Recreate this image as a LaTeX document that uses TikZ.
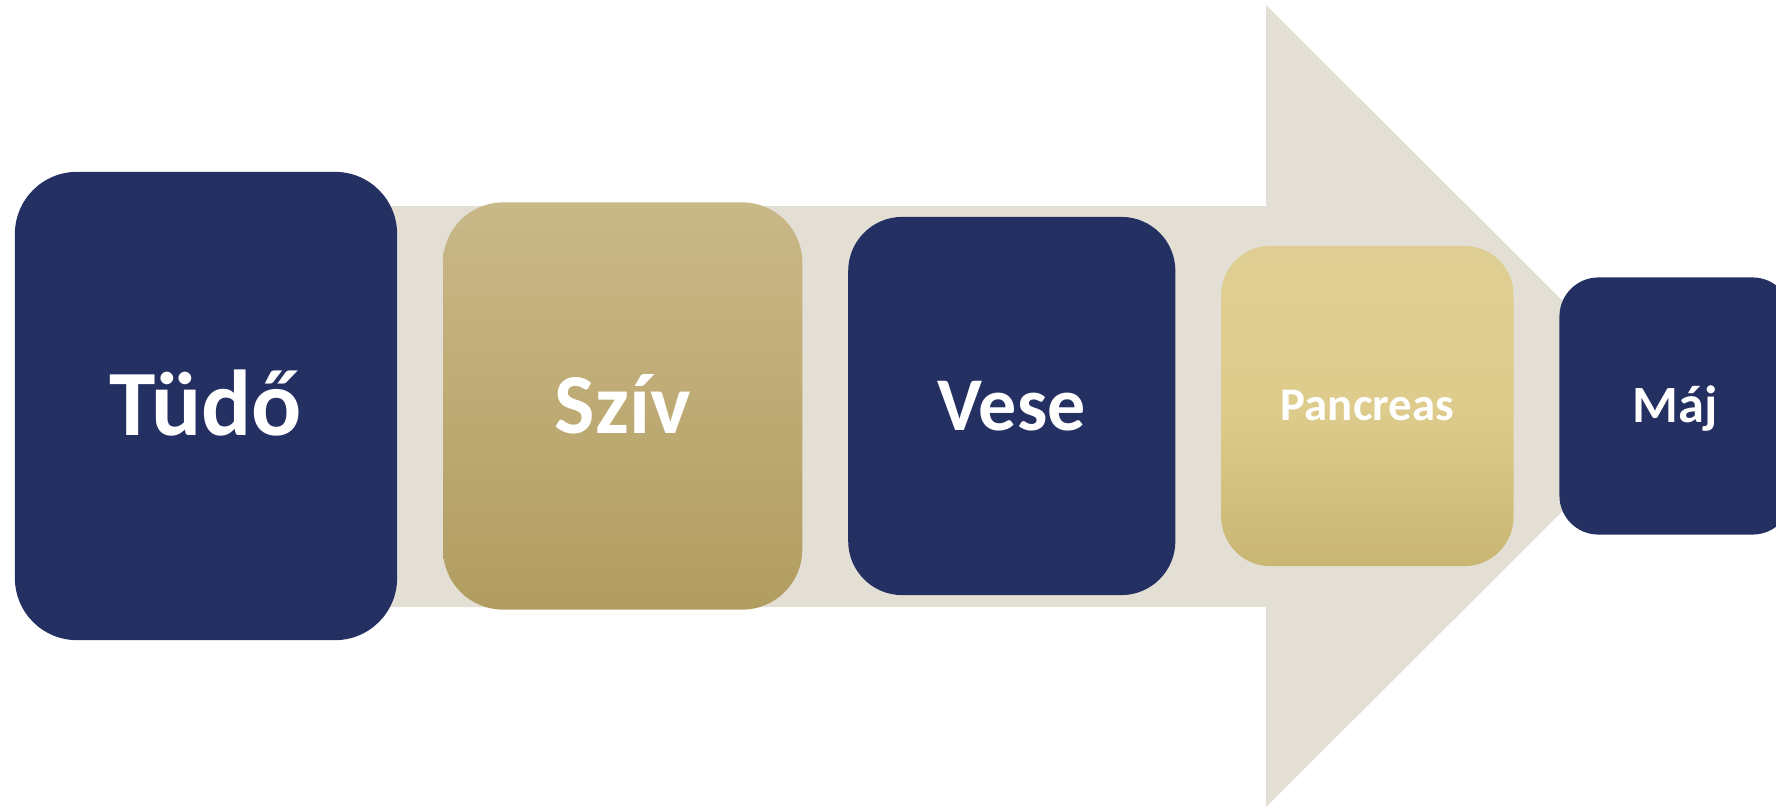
\documentclass[tikz,border=0pt]{standalone}
\usepackage{fontspec}
\setmainfont{Carlito}
\usetikzlibrary{positioning}

\definecolor{navy}{RGB}{37,48,98}
\definecolor{shaft}{RGB}{227,223,213}
\definecolor{goldtop}{RGB}{201,184,136}
\definecolor{goldbot}{RGB}{178,157,96}
\definecolor{palegoldtop}{RGB}{223,206,147}
\definecolor{palegoldmid}{RGB}{222,204,140}
\definecolor{palegoldbot}{RGB}{201,182,115}

\tikzset{
  organbox/.style={rectangle,inner sep=0pt,text=white,text depth=0pt},
  navybox/.style={organbox,fill=navy},
}

\begin{document}
\begin{tikzpicture}[x=0.01cm,y=-0.01cm]
\clip (0,0) rectangle (1776,806);

% big arrow behind the boxes
\fill[shaft] (200,206) -- (1266,206) -- (1266,5) -- (1668,406) -- (1266,807) -- (1266,607) -- (200,607) -- cycle;

\node[navybox,minimum width=3.82cm,minimum height=4.68cm,rounded corners=0.62cm,
  font=\fontsize{26.6}{30}\selectfont\bfseries,text height=16.8pt] (lung) at (206,406) {Tüdő};
\node[organbox,minimum width=3.59cm,minimum height=4.07cm,rounded corners=0.6cm,
  top color=goldtop,bottom color=goldbot,
  font=\fontsize{24.3}{28}\selectfont\bfseries,text height=15.4pt,right=0.445cm of lung] (heart) {Szív};
\node[navybox,minimum width=3.27cm,minimum height=3.78cm,rounded corners=0.54cm,
  font=\fontsize{21.6}{25}\selectfont\bfseries,text height=13.7pt,right=0.445cm of heart] (kidney) {Vese};
\node[organbox,minimum width=2.92cm,minimum height=3.2cm,rounded corners=0.49cm,
  top color=palegoldtop,bottom color=palegoldbot,middle color=palegoldmid,
  font=\fontsize{13.3}{16}\selectfont\bfseries,text height=8.4pt,right=0.445cm of kidney] (pancreas) {Pancreas};
\node[navybox,minimum width=2.32cm,minimum height=2.57cm,rounded corners=0.39cm,
  font=\fontsize{14.9}{18}\selectfont\bfseries,text height=9.4pt,right=0.445cm of pancreas] (liver) {Máj};

\end{tikzpicture}
\end{document}
